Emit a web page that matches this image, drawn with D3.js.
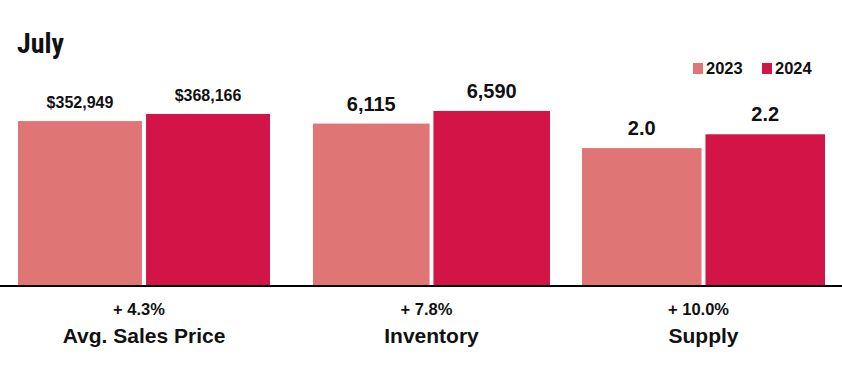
<!DOCTYPE html>
<html>
<head>
<meta charset="utf-8">
<script src="https://cdn.jsdelivr.net/npm/d3@7"></script>
<style>
  body { margin: 0; background: #fff; }
  text { font-family: "Liberation Sans", Arial, sans-serif; fill: #111; }
</style>
</head>
<body>
<div id="chart"></div>
<script>
var svgWidth = 842;
var svgHeight = 374;

// data
var categories = ["Avg. Sales Price", "Inventory", "Supply"];
var years = ["2023", "2024"];
var values2023 = [352949, 6115, 2.0];
var values2024 = [368166, 6590, 2.2];
var valueLabels2023 = ["$352,949", "6,115", "2.0"];
var valueLabels2024 = ["$368,166", "6,590", "2.2"];
var changeLabels = ["+ 4.3%", "+ 7.8%", "+ 10.0%"];
// each group has its own vertical scale
var scaleMax = [428000, 7530, 2.9];

var colors = { "2023": "#e07575", "2024": "#d31446" };

var baseY = 286;

var svg = d3.select("#chart")
  .append("svg")
  .attr("width", svgWidth)
  .attr("height", svgHeight);

// title
svg.append("text")
  .attr("x", 17)
  .attr("y", 53)
  .style("font-family", "'Liberation Sans Narrow', 'Roboto Condensed', Arial, sans-serif")
  .style("font-weight", "bold")
  .style("font-size", "28px")
  .text("July");

// legend
var legend = svg.append("g");
var legendX = [693, 762];
years.forEach(function(y, i) {
  legend.append("rect")
    .attr("x", legendX[i])
    .attr("y", 63)
    .attr("width", 10)
    .attr("height", 11)
    .attr("fill", colors[y]);
  legend.append("text")
    .attr("x", legendX[i] + 13)
    .attr("y", 74)
    .style("font-weight", "bold")
    .style("font-size", "16.5px")
    .text(y);
});

// groups are not quite evenly spaced in the original layout
var groupLeft = d3.scaleOrdinal().domain(categories).range([18, 313, 582]);
var groupWidth = d3.scaleOrdinal().domain(categories).range([252, 237, 243]);

var data = categories.map(function(c, i) {
  return {
    cat: c,
    change: changeLabels[i],
    y: d3.scaleLinear().domain([0, scaleMax[i]]).range([baseY, baseY - 200]),
    x1: d3.scaleBand().domain(years).range([0, groupWidth(c)]).paddingInner(0.032),
    big: i > 0,
    bars: [
      { year: "2023", value: values2023[i], label: valueLabels2023[i] },
      { year: "2024", value: values2024[i], label: valueLabels2024[i] }
    ]
  };
});

var groups = svg.selectAll(".group")
  .data(data)
  .enter()
  .append("g")
  .attr("class", "group")
  .attr("transform", d => `translate(${groupLeft(d.cat)}, 0)`);

groups.each(function(g) {
  var sel = d3.select(this);
  var x1 = g.x1;
  sel.selectAll("rect")
    .data(g.bars)
    .enter()
    .append("rect")
    .attr("x", d => x1(d.year))
    .attr("y", d => g.y(d.value))
    .attr("width", x1.bandwidth())
    .attr("height", d => baseY - g.y(d.value))
    .attr("fill", d => colors[d.year]);

  sel.selectAll(".val")
    .data(g.bars)
    .enter()
    .append("text")
    .attr("class", "val")
    .attr("x", d => x1(d.year) + x1.bandwidth() / 2)
    .attr("y", d => g.y(d.value) - 13)
    .attr("text-anchor", "middle")
    .style("font-weight", "bold")
    .style("font-size", g.big ? "20px" : "16px")
    .text(d => d.label);

  sel.append("text")
    .attr("x", groupWidth(g.cat) / 2 - 5)
    .attr("y", 315)
    .attr("text-anchor", "middle")
    .style("font-weight", "bold")
    .style("font-size", "16.5px")
    .text(g.change);

  sel.append("text")
    .attr("x", groupWidth(g.cat) / 2)
    .attr("y", 343)
    .attr("text-anchor", "middle")
    .style("font-weight", "bold")
    .style("font-size", "21px")
    .text(g.cat);
});

// baseline
svg.append("line")
  .attr("x1", 0)
  .attr("x2", svgWidth)
  .attr("y1", baseY)
  .attr("y2", baseY)
  .attr("stroke", "#000")
  .attr("stroke-width", 2);
</script>
</body>
</html>
